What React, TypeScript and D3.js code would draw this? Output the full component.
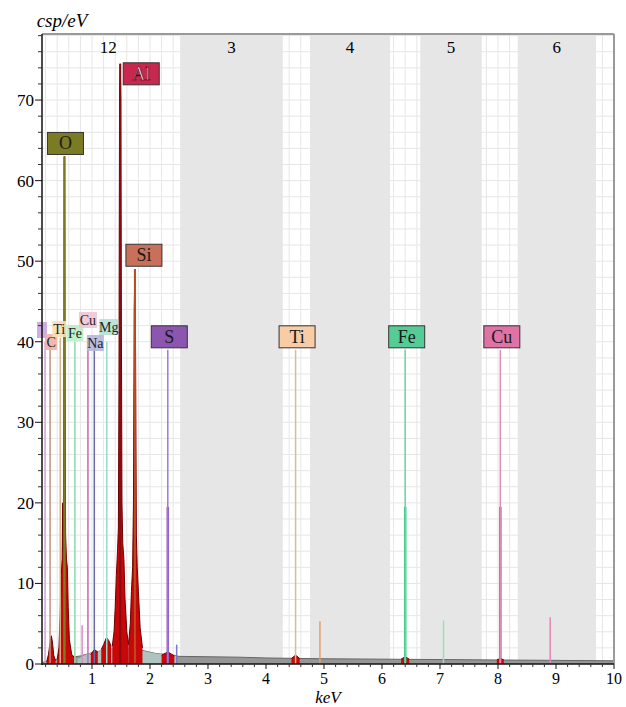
import * as d3 from "d3";

// x = keV, y = counts per eV
const continuum: [number, number][] = [
  [0.15, 0.2], [0.3, 0.5], [0.5, 0.7], [0.8, 1.0], [1.0, 1.4], [1.2, 1.7],
  [1.5, 2.0], [1.8, 1.8], [2.1, 1.3], [2.4, 1.1], [2.5, 0.95], [3.0, 0.9],
  [3.5, 0.85], [4.0, 0.75], [4.5, 0.7], [5.0, 0.65], [6.0, 0.6], [7.0, 0.55],
  [8.0, 0.5], [9.0, 0.45], [10.0, 0.4],
];

const lowContinuum: [number, number][] = [
  [0.75, 0.6], [0.9, 1.2], [1.1, 1.6], [1.3, 1.9], [1.5, 2.1], [1.7, 1.9],
  [1.9, 1.6], [2.1, 1.3], [2.3, 1.2], [2.45, 1.0],
];

// peak regions of the spectrum, each one its own run of points
const peaks: [number, number][][] = [
  [[0.22, 0.3], [0.25, 1.2], [0.28, 2.8], [0.3, 3.5], [0.32, 2.6], [0.34, 1.1], [0.37, 0.4]],
  [[0.4, 0.6], [0.43, 2], [0.45, 6], [0.47, 11], [0.485, 13], [0.495, 20], [0.505, 14], [0.515, 35],
   [0.525, 63], [0.535, 38], [0.545, 16], [0.56, 13], [0.575, 12], [0.59, 7], [0.61, 3], [0.65, 1.2], [0.7, 0.8]],
  [[0.98, 1.2], [1.04, 1.8], [1.1, 1.5]],
  [[1.16, 1.8], [1.2, 2.4], [1.25, 3.3], [1.29, 2.9], [1.33, 2.2]],
  [[1.35, 2.2], [1.38, 4], [1.4, 7], [1.42, 11], [1.44, 14], [1.455, 17], [1.465, 35], [1.475, 71],
   [1.487, 74.5], [1.497, 70], [1.507, 42], [1.517, 20], [1.53, 15], [1.55, 13], [1.57, 8], [1.6, 4], [1.63, 2.4]],
  [[1.63, 2.4], [1.66, 5], [1.68, 9], [1.7, 12], [1.715, 20], [1.728, 44], [1.74, 49], [1.752, 38],
   [1.765, 16], [1.78, 12], [1.8, 9], [1.83, 4.5], [1.87, 2]],
  [[2.2, 1.1], [2.31, 1.5], [2.42, 1.0]],
  [[4.44, 0.7], [4.51, 1.1], [4.58, 0.7]],
  [[6.33, 0.6], [6.4, 0.9], [6.47, 0.6]],
  [[7.98, 0.5], [8.04, 0.7], [8.1, 0.5]],
];

// main element lines with boxed labels
const elements = ["O", "Al", "Si", "S", "Ti", "Fe", "Cu"];
const elementEnergy = [0.525, 1.487, 1.74, 2.307, 4.51, 6.4, 8.04];
const elementHeight = [63, 74.5, 49, 39, 39, 39, 39];
const elementLine = ["#7d7a22", "#8a0a14", "#c04a20", "#a07cc8", "#d6bc98", "#66d6a6", "#e08ab6"];
const elementBox = ["#7b7b24", "#c8284e", "#c8705a", "#8c55ae", "#f8cca4", "#55cc95", "#e072a5"];

// small labels of the low energy lines
const minor = ["S", "C", "Ti", "Fe", "Cu", "Na", "Mg"];
const minorEnergy = [0.19, 0.277, 0.452, 0.705, 0.93, 1.04, 1.254];
const minorHeight = [40, 39.5, 40.5, 40, 40.5, 39.5, 40];
const minorLine = ["#d2a6dc", "#c49080", "#d8b488", "#86dcaa", "#c468b4", "#6a6aa4", "#98d8c4"];
const minorBox = ["#c9a4e0", "#f0b0a4", "#f6dfb8", "#b8f0c8", "#f2c4d4", "#b6b6da", "#b4e2d4"];

// secondary lines without labels
const extraEnergy = [0.83, 2.307, 2.46, 4.93, 6.4, 7.06, 8.04, 8.9];
const extraHeight = [4.8, 19.5, 2.4, 5.3, 19.5, 5.4, 19.5, 5.8];
const extraColor = ["#e08cc4", "#8a48c0", "#7878d0", "#e0a070", "#2cc482", "#98e0b8", "#d04494", "#e088b8"];

const bandLabels = ["3", "4", "5", "6"];
const bandFrom = [2.52, 4.76, 6.66, 8.34];
const bandTo = [4.29, 6.14, 7.72, 9.69];
const xTicks = [1, 2, 3, 4, 5, 6, 7, 8, 9, 10];
const yTicks = [0, 10, 20, 30, 40, 50, 60, 70];

const W = 626, H = 707;
const left = 42, right = 614, top = 34, bottom = 664;
const serif = '"Liberation Serif", "Times New Roman", Times, serif';

// box offsets in px (dx of box centre from line, dy of box bottom from line top)
const boxDx = [1, 21, 9, 1.5, 1.5, 1.5, 1.5];
const boxDy = [-2, 21, -3, -2, -2, -2, -2];
const minorPos = [
  { dx: -3, y: 335, w: 10 }, { dx: 1, y: 347, w: 12 }, { dx: -1, y: 334, w: 14 },
  { dx: 0, y: 338, w: 17 }, { dx: 0, y: 325, w: 18 }, { dx: 1, y: 348, w: 17 }, { dx: 2, y: 332, w: 19 },
];

export default function App() {
  const x = d3.scaleLinear().domain([0.138, 10]).range([left, right]);
  const y = d3.scaleLinear().domain([0, 78.2]).range([bottom, top]);

  const area = d3.area<[number, number]>().x((d) => x(d[0])).y0(y(0)).y1((d) => y(d[1]));
  const line = d3.line<[number, number]>().x((d) => x(d[0])).y((d) => y(d[1]));

  const gridX = d3.range(0.2, 10.01, 0.2);
  const gridY = d3.range(2, 78.2, 2);
  const minorX = d3.range(0.2, 10.01, 0.2).filter((v) => Math.abs(v - Math.round(v)) > 0.01);
  const minorY = d3.range(2, 78.2, 2).filter((v) => v % 10 !== 0);

  return (
    <svg width={W} height={H} style={{ position: "absolute", left: 0, top: 0, background: "#fff", fontFamily: serif }}>
      <defs>
        <clipPath id="plot">
          <rect x={left} y={top} width={right - left} height={bottom - top} />
        </clipPath>
      </defs>
      {gridX.map((v, i) => (
        <line key={"gx" + i} x1={x(v)} x2={x(v)} y1={top} y2={bottom} stroke="#e6e6e6" strokeWidth={1} />
      ))}
      {gridY.map((v, i) => (
        <line key={"gy" + i} x1={left} x2={right} y1={y(v)} y2={y(v)} stroke="#e6e6e6" strokeWidth={1} />
      ))}
      {bandLabels.map((b, i) => (
        <rect key={"b" + b} x={x(bandFrom[i])} y={top} width={x(bandTo[i]) - x(bandFrom[i])}
          height={bottom - top} fill="#e6e6e6" />
      ))}
      {bandLabels.map((b, i) => (
        <text key={"bl" + b} x={(x(bandFrom[i]) + x(bandTo[i])) / 2} y={53} textAnchor="middle" fontSize={17}>{b}</text>
      ))}
      <text x={x(1.28)} y={53} textAnchor="middle" fontSize={17}>12</text>

      <g clipPath="url(#plot)">
        <path d={area(continuum) ?? ""} fill="#969696" />
        <path d={line(continuum) ?? ""} fill="none" stroke="#666" strokeWidth={1} />
        <path d={area(lowContinuum) ?? ""} fill="#b4ccc6" opacity={0.85} />
        {peaks.map((p, i) => (
          <g key={"p" + i}>
            <path d={area(p) ?? ""} fill="#c80808" />
            <path d={line(p) ?? ""} fill="none" stroke="#6e0000" strokeWidth={1} />
          </g>
        ))}
        {minor.map((m, i) => (
          <line key={"ml" + i} x1={x(minorEnergy[i])} x2={x(minorEnergy[i])} y1={y(0)} y2={y(minorHeight[i])}
            stroke={minorLine[i]} strokeWidth={1.5} />
        ))}
        {extraEnergy.map((e, i) => (
          <line key={"xl" + i} x1={x(e)} x2={x(e)} y1={y(0)} y2={y(extraHeight[i])}
            stroke={extraColor[i]} strokeWidth={i === 1 || i === 4 || i === 6 ? 2.5 : 1.5} />
        ))}
        {elements.map((el, i) => (
          <line key={"el" + el} x1={x(elementEnergy[i])} x2={x(elementEnergy[i])} y1={y(0)} y2={y(elementHeight[i])}
            stroke={elementLine[i]} strokeWidth={i === 0 ? 2.5 : i < 3 ? 2 : 1.5} />
        ))}
      </g>

      {minor.map((m, i) => {
        const p = minorPos[i];
        const cx = x(minorEnergy[i]) + p.dx;
        return (
          <g key={"mb" + i}>
            <rect x={cx - p.w / 2} y={p.y - 13} width={p.w} height={16} fill={minorBox[i]} opacity={0.9} />
            {i > 0 && (
              <text x={cx} y={p.y} textAnchor="middle" fontSize={14} fill="#222">{m}</text>
            )}
          </g>
        );
      })}
      {elements.map((el, i) => {
        const cx = x(elementEnergy[i]) + boxDx[i];
        const by = y(elementHeight[i]) + boxDy[i];
        return (
          <g key={"eb" + el}>
            <rect x={cx - 18} y={by - 22} width={36} height={22} fill={elementBox[i]} stroke="#333" strokeWidth={1} />
            <text x={cx} y={by - 5} textAnchor="middle" fontSize={18}
              fill={el === "Al" ? "#f6e4ea" : "#1a1a1a"}
              stroke={el === "Al" ? "#3a0010" : "none"} strokeWidth={0.6}>{el}</text>
          </g>
        );
      })}

      <line x1={left} x2={right} y1={top} y2={top} stroke="#9a9a9a" strokeWidth={2} />
      <line x1={right} x2={right} y1={top} y2={bottom} stroke="#9a9a9a" strokeWidth={2} />
      <line x1={left} x2={left} y1={top} y2={bottom + 1} stroke="#111" strokeWidth={1.5} />
      <line x1={left} x2={right} y1={bottom} y2={bottom} stroke="#111" strokeWidth={1.5} />

      {minorY.map((v, i) => (
        <line key={"my" + i} x1={left - 4} x2={left} y1={y(v)} y2={y(v)} stroke="#333" strokeWidth={1} />
      ))}
      {yTicks.map((v) => (
        <g key={"yt" + v}>
          <line x1={left - 7} x2={left} y1={y(v)} y2={y(v)} stroke="#111" strokeWidth={1} />
          <text x={left - 8} y={y(v) + 6} textAnchor="end" fontSize={17}>{v}</text>
        </g>
      ))}
      {minorX.map((v, i) => (
        <line key={"mx" + i} x1={x(v)} x2={x(v)} y1={bottom} y2={bottom + 3} stroke="#333" strokeWidth={1} />
      ))}
      {xTicks.map((v) => (
        <g key={"xt" + v}>
          <line x1={x(v)} x2={x(v)} y1={bottom} y2={bottom + 5} stroke="#111" strokeWidth={1} />
          <text x={x(v)} y={684} textAnchor="middle" fontSize={16}>{v}</text>
        </g>
      ))}
      <text x={62} y={27} textAnchor="middle" fontSize={19} fontStyle="italic">csp/eV</text>
      <text x={328} y={703} textAnchor="middle" fontSize={17} fontStyle="italic">keV</text>
    </svg>
  );
}
